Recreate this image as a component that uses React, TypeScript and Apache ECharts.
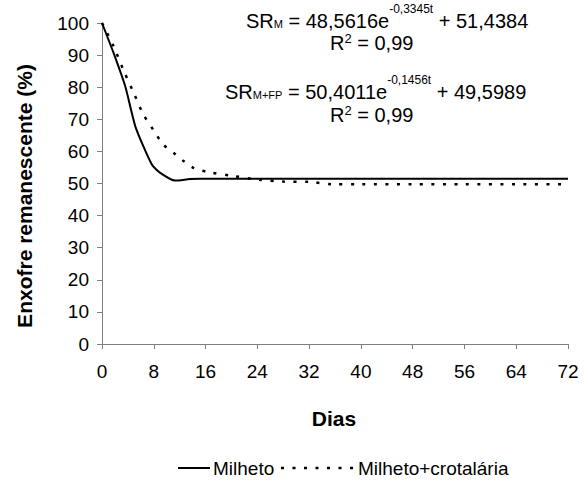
import React, { useEffect, useRef } from "react";
import * as echarts from "echarts";

// Milheto (solid)
const daysMilheto = [0, 1.8, 3.6, 5.2, 7.7, 9, 11.3, 13.6, 15.2, 24, 32, 40, 48, 56, 64, 72];
const milheto = [100, 90.6, 80.2, 67.5, 55.9, 53.3, 50.9, 51.4, 51.5, 51.5, 51.5, 51.5, 51.5, 51.5, 51.5, 51.5];

// Milheto+crotalária (dotted)
const daysCrot = [0, 1.8, 3.3, 4.9, 6.4, 8, 9.5, 11.1, 12.6, 14.2, 16.5, 20.1, 24.2, 28, 32, 35.5, 40, 48, 56, 64, 72];
const crotalaria = [100, 92.7, 85.4, 78.2, 71.5, 66.5, 62.1, 59.5, 57, 54.8, 53.5, 52.4, 51.2, 50.6, 50.5, 49.8, 49.8, 49.8, 49.8, 49.8, 49.8];

const xTicks = [0, 8, 16, 24, 32, 40, 48, 56, 64, 72];
const seriesNames = ["Milheto", "Milheto+crotalária"];

const FONT = "'Liberation Sans', Arial, sans-serif";

export default function App() {
  const ref = useRef<HTMLDivElement>(null);
  useEffect(() => {
    if (!ref.current) return;
    const chart = echarts.init(ref.current, null, { renderer: "svg" });
    const eqRich = {
      a: { fontSize: 20, fontFamily: FONT, color: "#000", lineHeight: 24, verticalAlign: "middle" },
      sub: { fontSize: 11, fontFamily: FONT, color: "#000", lineHeight: 12, verticalAlign: "middle", padding: [6, 0, 0, 0] },
      sup: { fontSize: 12, fontFamily: FONT, color: "#000", lineHeight: 12, verticalAlign: "middle", padding: [0, 0, 25, 0] },
    };
    const r2Rich = {
      a: { fontSize: 20, fontFamily: FONT, color: "#000", lineHeight: 24, verticalAlign: "middle" },
      sup: { fontSize: 13, fontFamily: FONT, color: "#000", lineHeight: 12, verticalAlign: "middle", padding: [0, 0, 9, 0] },
    };
    chart.setOption({
      animation: false,
      backgroundColor: "#fff",
      grid: { left: 102, right: 16, top: 23, bottom: 152, containLabel: false },
      xAxis: {
        type: "value",
        min: 0,
        max: 72,
        interval: 8,
        axisLine: { lineStyle: { color: "#808080", width: 1 } },
        axisTick: { show: true, length: 5, lineStyle: { color: "#808080" } },
        splitLine: { show: false },
        axisLabel: {
          color: "#000",
          fontSize: 19,
          fontFamily: FONT,
          margin: 18,
          formatter: (v: number) => (xTicks.includes(v) ? String(v) : ""),
        },
      },
      yAxis: {
        type: "value",
        min: 0,
        max: 100,
        interval: 10,
        axisLine: { show: true, lineStyle: { color: "#808080", width: 1 } },
        axisTick: { show: true, length: 5, lineStyle: { color: "#808080" } },
        splitLine: { show: false },
        axisLabel: { color: "#000", fontSize: 19, fontFamily: FONT, margin: 13 },
      },
      series: [
        {
          name: seriesNames[0],
          type: "line",
          data: daysMilheto.map((d, i) => [d, milheto[i]]),
          smooth: 0.2,
          showSymbol: false,
          lineStyle: { color: "#000", width: 2 },
        },
        {
          name: seriesNames[1],
          type: "line",
          data: daysCrot.map((d, i) => [d, crotalaria[i]]),
          smooth: 0.3,
          showSymbol: false,
          lineStyle: { color: "#000", width: 2.5, type: [3, 8.5] },
        },
      ],
      graphic: [
        {
          type: "text",
          x: 24,
          y: 196,
          rotation: Math.PI / 2,
          style: {
            text: "Enxofre remanescente (%)",
            font: `bold 21px ${FONT}`,
            fill: "#000",
            align: "center",
            verticalAlign: "middle",
          },
        },
        {
          type: "text",
          x: 334,
          y: 418,
          style: {
            text: "Dias",
            font: `bold 21px ${FONT}`,
            fill: "#000",
            align: "center",
            verticalAlign: "middle",
          },
        },
        {
          type: "text",
          x: 246,
          y: 21,
          style: {
            text: "{a|SR}{sub|M}{a| = 48,5616e}{sup|-0,3345t}{a| + 51,4384}",
            rich: eqRich,
            align: "left",
            verticalAlign: "middle",
          },
        },
        {
          type: "text",
          x: 330,
          y: 43,
          style: {
            text: "{a|R}{sup|2}{a| = 0,99}",
            rich: r2Rich,
            align: "left",
            verticalAlign: "middle",
          },
        },
        {
          type: "text",
          x: 225,
          y: 92,
          style: {
            text: "{a|SR}{sub|M+FP}{a| = 50,4011e}{sup|-0,1456t}{a| + 49,5989}",
            rich: eqRich,
            align: "left",
            verticalAlign: "middle",
          },
        },
        {
          type: "text",
          x: 330,
          y: 115,
          style: {
            text: "{a|R}{sup|2}{a| = 0,99}",
            rich: r2Rich,
            align: "left",
            verticalAlign: "middle",
          },
        },
        // legend
        {
          type: "line",
          shape: { x1: 178, y1: 468, x2: 210, y2: 468 },
          style: { stroke: "#000", lineWidth: 2 },
        },
        {
          type: "text",
          x: 213,
          y: 468,
          style: { text: seriesNames[0], font: `19px ${FONT}`, fill: "#000", align: "left", verticalAlign: "middle" },
        },
        {
          type: "line",
          shape: { x1: 281, y1: 468, x2: 354, y2: 468 },
          style: { stroke: "#000", lineWidth: 2.5, lineDash: [3, 8.5] },
        },
        {
          type: "text",
          x: 358,
          y: 468,
          style: { text: seriesNames[1], font: `19px ${FONT}`, fill: "#000", align: "left", verticalAlign: "middle" },
        },
      ],
    });
    return () => chart.dispose();
  }, []);
  return (
    <div
      ref={ref}
      style={{ position: "fixed", left: 0, top: 0, width: 584, height: 496, background: "#fff" }}
    />
  );
}
